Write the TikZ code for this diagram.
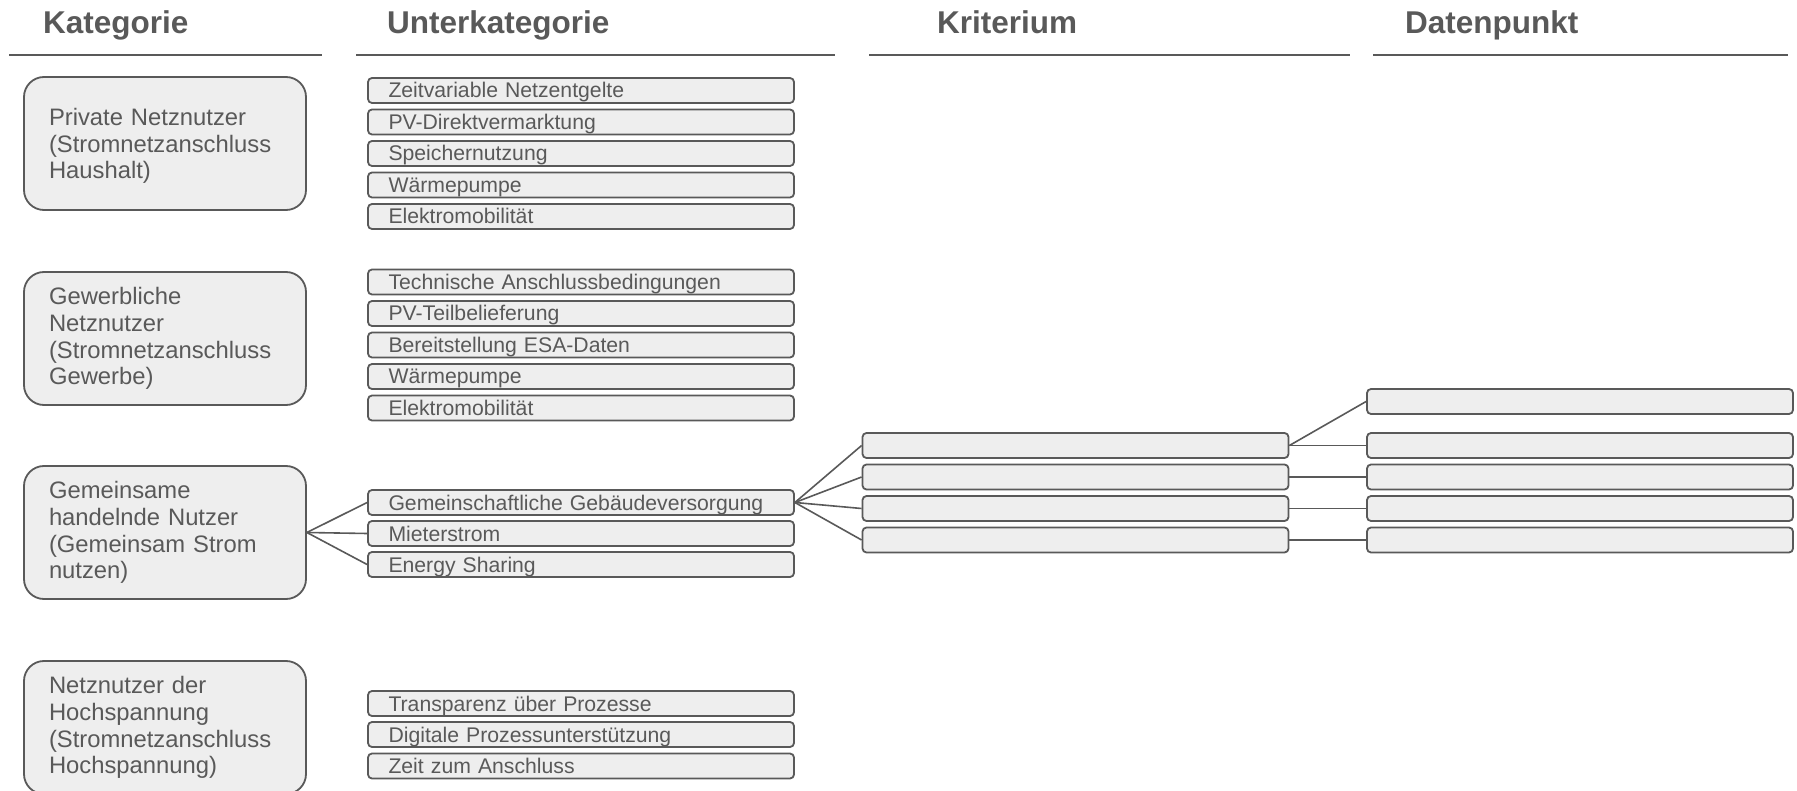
\documentclass[tikz,border=0pt]{standalone}
\usepackage{fontspec}
\setmainfont{Liberation Sans}
\definecolor{txt}{HTML}{595959}
\definecolor{boxfill}{HTML}{EEEEEE}
\definecolor{edge}{HTML}{595959}
\tikzset{
 cat/.style={draw=edge, line width=1.8pt, fill=boxfill, rounded corners=20pt, minimum width=282pt, minimum height=133pt, text width=232pt, inner xsep=25pt, inner ysep=0pt, align=left, text=txt, font=\fontsize{23.8}{26.7}\selectfont},
 sub/.style={draw=edge, line width=1.8pt, fill=boxfill, rounded corners=4pt, minimum width=426pt, minimum height=25pt, text width=385pt, inner xsep=20.5pt, inner ysep=0pt, align=left, text=txt, text height=15pt, text depth=0pt, font=\fontsize{21.2}{24}\selectfont},
 head/.style={anchor=base west, text=txt, font=\fontsize{31.5}{36}\selectfont\bfseries, inner sep=0pt},
 hline/.style={draw=edge, line width=2pt},
 link/.style={draw=edge, line width=1.6pt},
}
\begin{document}
\begin{tikzpicture}[x=1pt,y=-1pt]
\useasboundingbox (0,0) rectangle (1797,791);
% headers
\node[head] (h1) at (43,34) {Kategorie};
\node[head] (h2) at (387,34) {Unterkategorie};
\node[head] (h3) at (937,34) {Kriterium};
\node[head] (h4) at (1405,34) {Datenpunkt};
\draw[hline] (9,55) -- (322,55);
\draw[hline] (356,55) -- (835,55);
\draw[hline] (869,55) -- (1350,55);
\draw[hline] (1373,55) -- (1788,55);
% categories
\node[cat] (c1) at (165,143.5) {\rule{0pt}{22pt}Private Netznutzer\\(Stromnetzanschluss\\Haushalt)};
\node[cat] (c2) at (165,338.5) {Gewerbliche\\Netznutzer\\(Stromnetzanschluss\\Gewerbe)};
\node[cat] (c3) at (165,532.5) {Gemeinsame\\handelnde Nutzer\\(Gemeinsam Strom\\nutzen)};
\node[cat] (c4) at (165,727.5) {Netznutzer der\\Hochspannung\\(Stromnetzanschluss\\Hochspannung)};
% subcategories group 1
\node[sub] (s11) at (581,90.5) {Zeitvariable Netzentgelte};
\node[sub] (s12) at (581,122) {PV-Direktvermarktung};
\node[sub] (s13) at (581,153.5) {Speichernutzung};
\node[sub] (s14) at (581,185) {Wärmepumpe};
\node[sub] (s15) at (581,216.5) {Elektromobilität};
% group 2
\node[sub] (s21) at (581,282) {Technische Anschlussbedingungen};
\node[sub] (s22) at (581,313.5) {PV-Teilbelieferung};
\node[sub] (s23) at (581,345) {Bereitstellung ESA-Daten};
\node[sub] (s24) at (581,376.5) {Wärmepumpe};
\node[sub] (s25) at (581,408) {Elektromobilität};
% group 3
\node[sub] (s31) at (581,502.5) {Gemeinschaftliche Gebäudeversorgung};
\node[sub] (s32) at (581,533.5) {Mieterstrom};
\node[sub] (s33) at (581,564.5) {Energy Sharing};
% group 4
\node[sub] (s41) at (581,703.5) {Transparenz über Prozesse};
\node[sub] (s42) at (581,734.5) {Digitale Prozessunterstützung};
\node[sub] (s43) at (581,766) {Zeit zum Anschluss};
% Kriterium
\node[sub] (k1) at (1075.5,445.5) {};
\node[sub] (k2) at (1075.5,477) {};
\node[sub] (k3) at (1075.5,508.5) {};
\node[sub] (k4) at (1075.5,540) {};
% Datenpunkt
\node[sub] (d1) at (1580,401.5) {};
\node[sub] (d2) at (1580,445.5) {};
\node[sub] (d3) at (1580,477) {};
\node[sub] (d4) at (1580,508.5) {};
\node[sub] (d5) at (1580,540) {};
% connectors
\draw[link] (c3.east) -- (s31.west);
\draw[link] (c3.east) -- (s32.west);
\draw[link] (c3.east) -- (s33.west);
\draw[link] (s31.east) -- (k1.west);
\draw[link] (s31.east) -- (k2.west);
\draw[link] (s31.east) -- (k3.west);
\draw[link] (s31.east) -- (k4.west);
\draw[link] (k1.east) -- (d1.west);
\draw[link] (k1.east) -- (d2.west);
\draw[link] (k2.east) -- (d3.west);
\draw[link] (k3.east) -- (d4.west);
\draw[link] (k4.east) -- (d5.west);
\end{tikzpicture}
\end{document}
